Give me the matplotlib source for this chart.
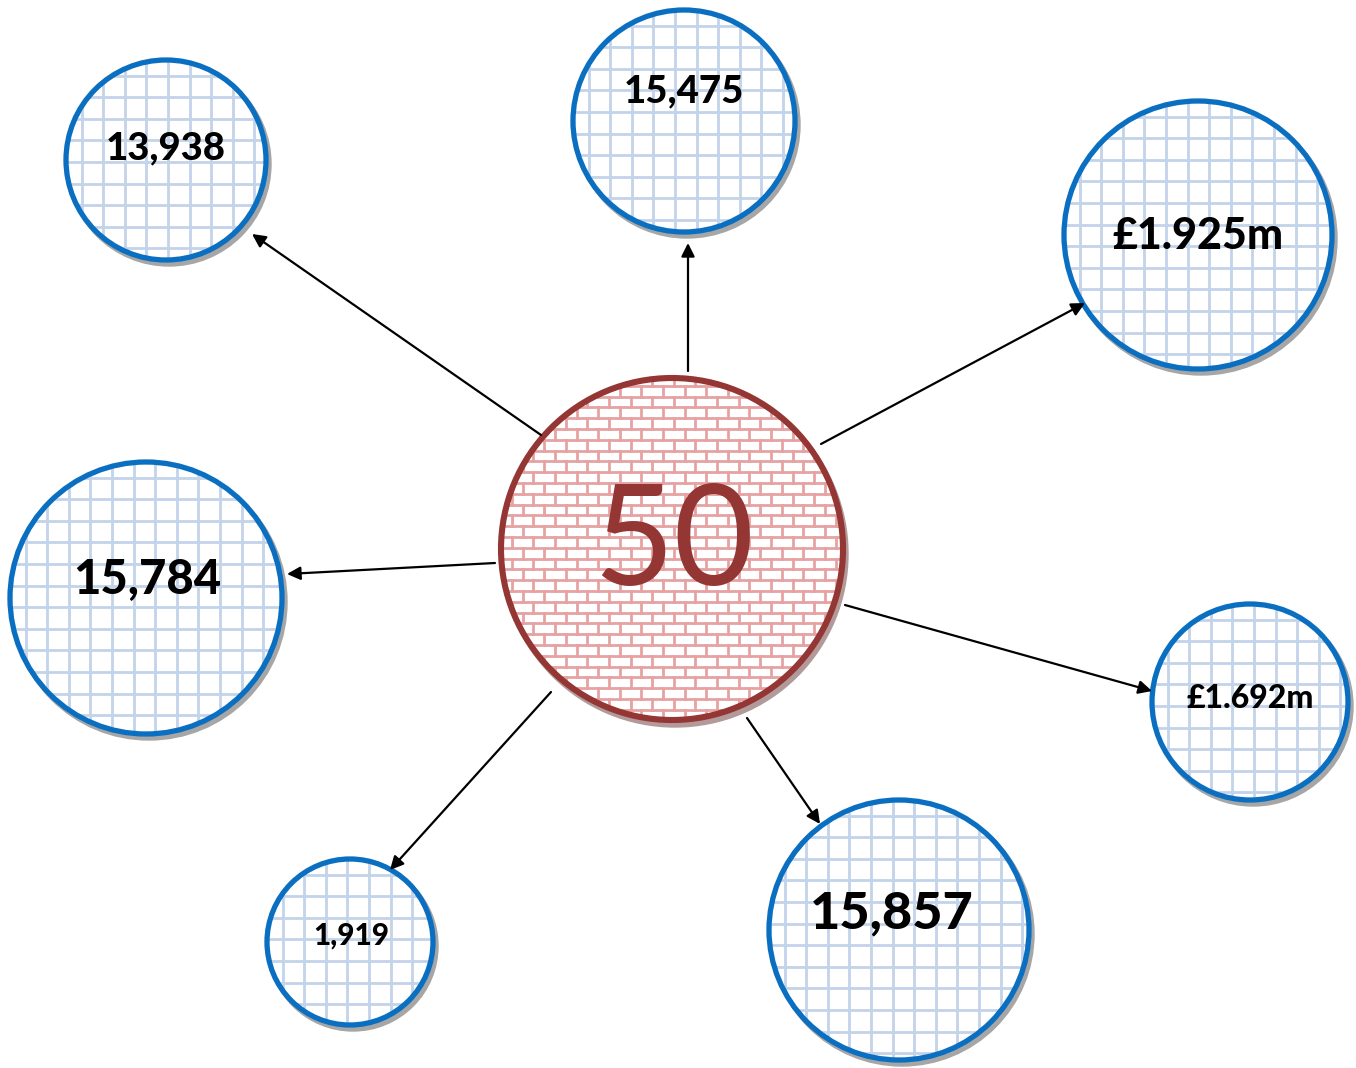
import numpy as np
import matplotlib
matplotlib.use("Agg")
import matplotlib.pyplot as plt
from matplotlib.patches import Circle

# ---- data ----
labels = ["13,938", "15,475", "£1.925m", "15,784", "£1.692m", "1,919", "15,857"]
center_label = "50"

# ---- layout (pixels) ----
W, H = 1356, 1068
centers = [(166, 160), (684, 121), (1198, 235), (146, 598), (1250, 702), (350, 942), (899, 930)]
radii = [100, 111, 134, 136, 98, 83, 130]
text_pos = [(166, 148), (684, 91), (1198, 236), (147, 580), (1250, 698), (351, 936), (892, 914)]
font_sizes = [27.5, 27.5, 31, 34, 23, 21.5, 37.5]
arrow_start = [(541, 435), (688, 371), (821, 444), (495, 563), (845, 605), (551, 692), (747, 718)]
arrow_end = [(252, 234), (688, 243), (1085, 303), (287, 574), (1152, 691), (390, 870), (820, 824)]
hub_c, hub_r = (672, 549), 171

FONT = ["Lato", "DejaVu Sans"]

fig = plt.figure(figsize=(W / 100, H / 100), dpi=100)
ax = fig.add_axes([0, 0, 1, 1])
ax.set_xlim(0, W)
ax.set_ylim(H, 0)
ax.axis("off")


def grid_circle(c, r, z):
    shadow = Circle((c[0] + 3, c[1] + 4), r + 2, color="#a6a6a6", zorder=z)
    ax.add_patch(shadow)
    bg = Circle(c, r, facecolor="white", edgecolor="none", zorder=z + 0.1)
    ax.add_patch(bg)
    clip = Circle(c, r, transform=ax.transData)
    step = 21.6
    off = 6
    xs = np.arange(c[0] - r - off, c[0] + r + step, step)
    ys = np.arange(c[1] - r - off, c[1] + r + step, step)
    for x in xs:
        ln, = ax.plot([x, x], [c[1] - r, c[1] + r], color="#c3d3ea", lw=2.0, zorder=z + 0.2)
        ln.set_clip_path(clip)
    for y in ys:
        ln, = ax.plot([c[0] - r, c[0] + r], [y, y], color="#c3d3ea", lw=2.0, zorder=z + 0.2)
        ln.set_clip_path(clip)
    edge = Circle(c, r, facecolor="none", edgecolor="#0a6fc0", lw=3.8, zorder=z + 0.3)
    ax.add_patch(edge)


def brick_circle(c, r, z):
    shadow = Circle((c[0] + 3, c[1] + 5), r + 2, color="#b39a9a", zorder=z)
    ax.add_patch(shadow)
    bg = Circle(c, r, facecolor="white", edgecolor="none", zorder=z + 0.1)
    ax.add_patch(bg)
    clip = Circle(c, r, transform=ax.transData)
    bh = 10.8
    bw = 21.6
    y0 = c[1] - r - 3
    rows = int(2 * r / bh) + 3
    col = "#e6a2a2"
    for i in range(rows):
        y = y0 + i * bh
        ln, = ax.plot([c[0] - r, c[0] + r], [y, y], color=col, lw=2.0, zorder=z + 0.2)
        ln.set_clip_path(clip)
        shift = 0 if i % 2 == 0 else bw / 2
        for x in np.arange(c[0] - r - bw + shift, c[0] + r + bw, bw):
            ln, = ax.plot([x, x], [y, y + bh], color=col, lw=2.0, zorder=z + 0.2)
            ln.set_clip_path(clip)
    edge = Circle(c, r, facecolor="none", edgecolor="#943634", lw=4.4, zorder=z + 0.3)
    ax.add_patch(edge)


for i, lab in enumerate(labels):
    grid_circle(centers[i], radii[i], 2)
    ax.text(text_pos[i][0], text_pos[i][1], lab, ha="center", va="center",
            fontsize=font_sizes[i], fontweight="black", family=FONT, color="black", zorder=3)

brick_circle(hub_c, hub_r, 4)
ax.text(hub_c[0] + 2, 546, center_label, ha="center", va="center", fontsize=100,
        family=FONT, color="#943634", zorder=5)

for s, e in zip(arrow_start, arrow_end):
    ax.annotate("", xy=e, xytext=s,
                arrowprops=dict(arrowstyle="-|>", color="black", lw=1.6,
                                mutation_scale=20, shrinkA=0, shrinkB=0),
                zorder=6)

fig.savefig("out.png", dpi=100, facecolor="white")
